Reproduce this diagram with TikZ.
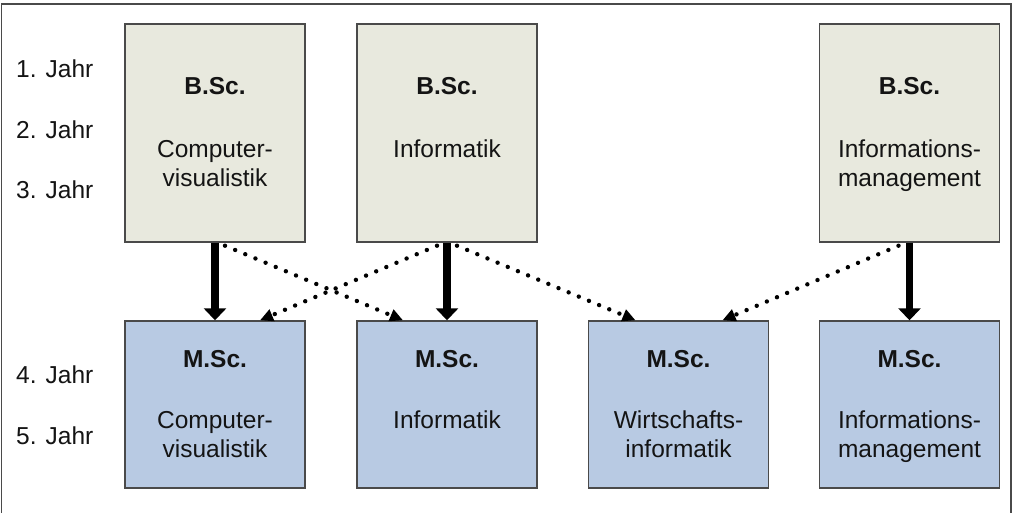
\documentclass[tikz,border=0pt]{standalone}
\usepackage{fontspec}
\setmainfont{Liberation Sans}
\usetikzlibrary{arrows.meta}
\definecolor{bscfill}{HTML}{E8E9DE}
\definecolor{mscfill}{HTML}{B8CAE3}
\definecolor{boxline}{HTML}{4A4A4A}
\definecolor{txt}{HTML}{141414}
\begin{document}
\begin{tikzpicture}[x=1pt,y=-1pt,
  box/.style={draw=boxline,line width=1.4pt,rectangle,minimum width=180pt,inner sep=0pt},
  bbox/.style={box,fill=bscfill,minimum height=218pt},
  mbox/.style={box,fill=mscfill,minimum height=167pt},
  lbl/.style={anchor=base,inner sep=0pt,text=txt,font=\fontsize{24.5}{27}\selectfont},
  ttl/.style={lbl,font=\fontsize{24.5}{27}\selectfont\bfseries},
  yr/.style={anchor=base west,inner sep=0pt,text=txt,font=\fontsize{24.5}{27}\selectfont},
  solidarr/.style={line width=7.5pt,-{Triangle[width=22pt,length=12pt]}},
  dotarr/.style={line width=4.4pt,line cap=round,dash pattern=on 0pt off 11pt,-{Triangle[width=12pt,length=13pt]}}
]
\useasboundingbox (0,0) rectangle (1014,513);
\draw[draw=boxline,line width=1.3pt] (1.5,513) -- (1.5,4) -- (1011,4) -- (1011,513);

% year labels
\node[yr] (y1) at (16,78) {1. Jahr};
\node[yr] (y2) at (16,139) {2. Jahr};
\node[yr] (y3) at (16,199) {3. Jahr};
\node[yr] (y4) at (16,383) {4. Jahr};
\node[yr] (y5) at (16,444) {5. Jahr};

% bachelor boxes
\node[bbox] (b1) at (215,133) {};
\node[bbox] (b2) at (447,133) {};
\node[bbox] (b3) at (909.5,133) {};
% master boxes
\node[mbox] (m1) at (215,404.5) {};
\node[mbox] (m2) at (447,404.5) {};
\node[mbox] (m3) at (678.5,404.5) {};
\node[mbox] (m4) at (909.5,404.5) {};

% texts bachelor
\node[ttl] (b1t) at (215,95) {B.Sc.};
\node[lbl] (b1a) at (215,158) {Computer-};
\node[lbl] (b1b) at (215,187) {visualistik};
\node[ttl] (b2t) at (447,95) {B.Sc.};
\node[lbl] (b2a) at (447,158) {Informatik};
\node[ttl] (b3t) at (909.5,95) {B.Sc.};
\node[lbl] (b3a) at (909.5,158) {Informations-};
\node[lbl] (b3b) at (909.5,187) {management};

% texts master
\node[ttl] (m1t) at (215,367) {M.Sc.};
\node[lbl] (m1a) at (215,428) {Computer-};
\node[lbl] (m1b) at (215,457) {visualistik};
\node[ttl] (m2t) at (447,367) {M.Sc.};
\node[lbl] (m2a) at (447,428) {Informatik};
\node[ttl] (m3t) at (678.5,367) {M.Sc.};
\node[lbl] (m3a) at (678.5,428) {Wirtschafts-};
\node[lbl] (m3b) at (678.5,457) {informatik};
\node[ttl] (m4t) at (909.5,367) {M.Sc.};
\node[lbl] (m4a) at (909.5,428) {Informations-};
\node[lbl] (m4b) at (909.5,457) {management};

% solid arrows
\draw[solidarr] (b1.south) -- (m1.north);
\draw[solidarr] (b2.south) -- (m2.north);
\draw[solidarr] (b3.south) -- (m4.north);

% dotted arrows
\draw[dotarr] ([xshift=10pt,yshift=-3pt]b1.south) -- ([xshift=-44pt]m2.north);
\draw[dotarr] ([xshift=-10pt,yshift=-3pt]b2.south) -- ([xshift=45pt]m1.north);
\draw[dotarr] ([xshift=10pt,yshift=-3pt]b2.south) -- ([xshift=-43pt]m3.north);
\draw[dotarr] ([xshift=-11pt,yshift=-3pt]b3.south) -- ([xshift=44pt]m3.north);
\end{tikzpicture}
\end{document}
